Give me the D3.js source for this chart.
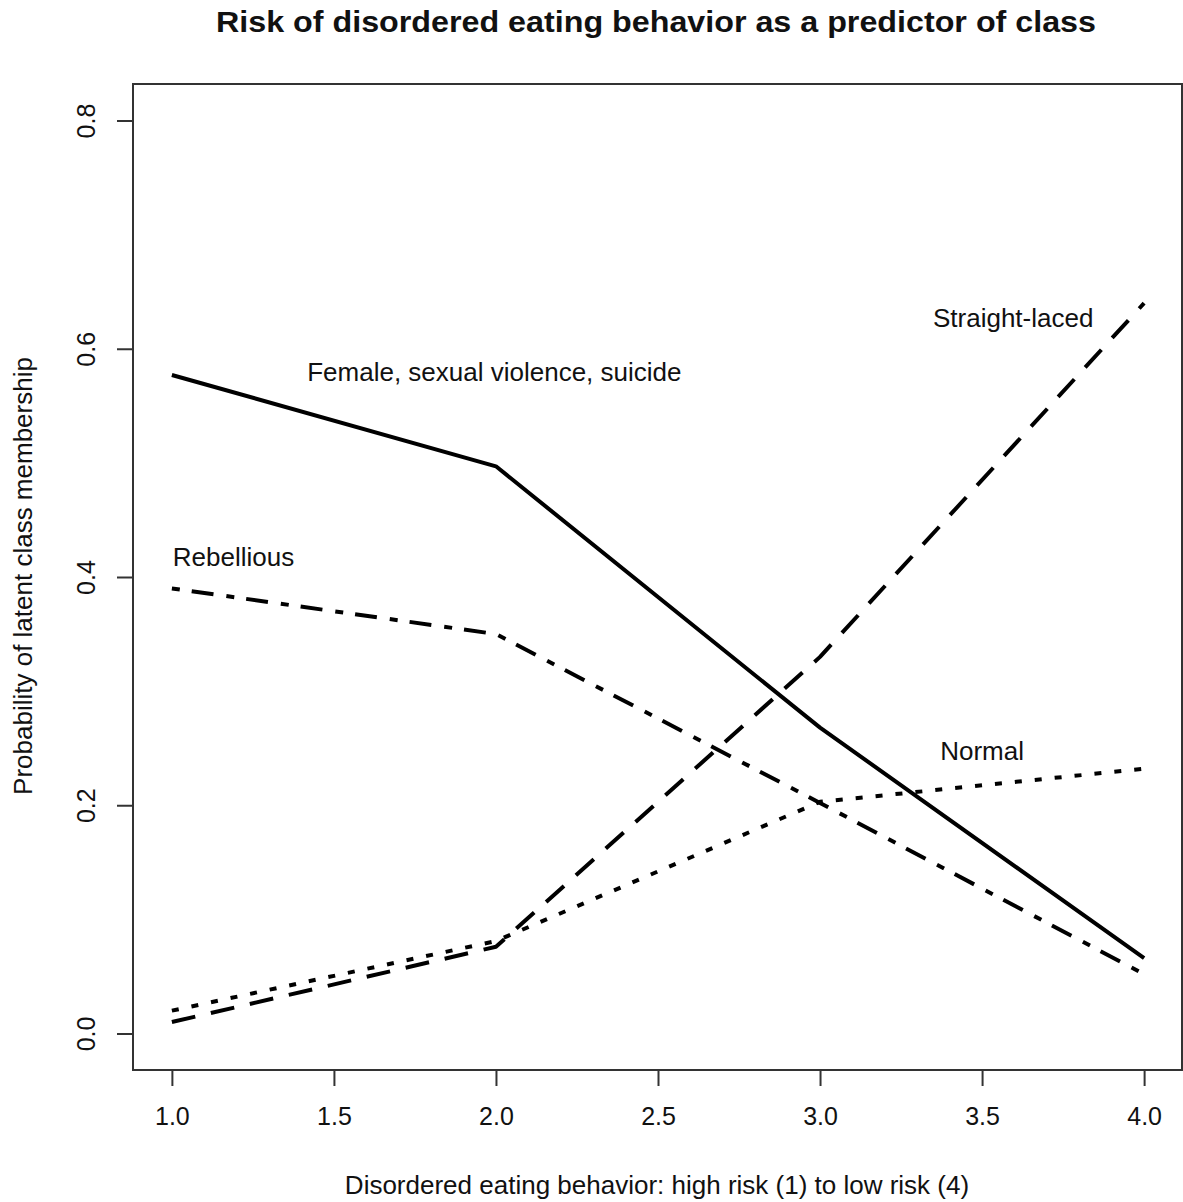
<!DOCTYPE html>
<html>
<head>
<meta charset="utf-8">
<script src="https://cdn.jsdelivr.net/npm/d3@7"></script>
<style>
  html, body { margin: 0; padding: 0; background: #fff; }
  text { font-family: "Liberation Sans", Arial, sans-serif; fill: #111; }
</style>
</head>
<body>
<svg id="chart" width="1183" height="1202"></svg>
<script>
// ---- data ----
const xValues = [1, 2, 3, 4];
const femaleSV = [0.577, 0.497, 0.268, 0.066];
const rebellious = [0.390, 0.350, 0.202, 0.052];
const straightLaced = [0.010, 0.076, 0.330, 0.640];
const normal = [0.020, 0.081, 0.203, 0.232];

const xTicks = [1.0, 1.5, 2.0, 2.5, 3.0, 3.5, 4.0];
const yTicks = [0.0, 0.2, 0.4, 0.6, 0.8];

const seriesNames = ["Female, sexual violence, suicide", "Rebellious", "Straight-laced", "Normal"];
const seriesValues = [femaleSV, rebellious, straightLaced, normal];
const seriesDash = [null, "8,12,22,13", "24,16", "7,13"];
// label anchor positions in data units
const labelX = [1.995, 1.19, 3.596, 3.5];
const labelY = [0.58, 0.418, 0.627, 0.248];

const titleText = "Risk of disordered eating behavior as a predictor of class";
const xLabel = "Disordered eating behavior: high risk (1) to low risk (4)";
const yLabel = "Probability of latent class membership";

// ---- layout ----
const svg = d3.select("#chart");
const x = d3.scaleLinear().domain([0.88, 4.12]).range([133, 1183]);
const y = d3.scaleLinear().domain([-0.032, 0.832]).range([1070, 84]);

// box
svg.append("rect")
  .attr("x", x(0.88)).attr("y", y(0.832))
  .attr("width", x(4.12) - x(0.88) - 1).attr("height", y(-0.032) - y(0.832))
  .attr("fill", "none").attr("stroke", "#333").attr("stroke-width", 2);

// x axis
const xAxis = d3.axisBottom(x).tickValues(xTicks).tickFormat(d3.format(".1f"))
  .tickSize(16).tickPadding(21);
const gx = svg.append("g").attr("transform", `translate(0,${y(-0.032)})`).call(xAxis);
gx.select(".domain").remove();
gx.selectAll(".tick line").attr("stroke", "#333").attr("stroke-width", 2);
gx.selectAll(".tick text").style("font-size", "25px").attr("fill", "#111");

// y axis
const yAxis = d3.axisLeft(y).tickValues(yTicks).tickFormat(d3.format(".1f"))
  .tickSize(16).tickPadding(0);
const gy = svg.append("g").attr("transform", `translate(${x(0.88)},0)`).call(yAxis);
gy.select(".domain").remove();
gy.selectAll(".tick line").attr("stroke", "#333").attr("stroke-width", 2);
gy.selectAll(".tick text")
  .style("font-size", "25px").attr("fill", "#111")
  .attr("x", null).attr("dy", null)
  .attr("text-anchor", "middle")
  .attr("transform", "translate(-47,0) rotate(-90)")
  .attr("dy", "0.35em");

// lines
const line = d3.line().x((d, i) => x(xValues[i])).y(d => y(d));
seriesValues.forEach((vals, k) => {
  svg.append("path")
    .datum(vals)
    .attr("d", line)
    .attr("fill", "none")
    .attr("stroke", "#000")
    .attr("stroke-width", 4)
    .attr("stroke-linejoin", "round")
    .attr("stroke-linecap", "butt")
    .attr("stroke-dasharray", seriesDash[k]);
});

// labels
seriesNames.forEach((name, k) => {
  svg.append("text")
    .attr("x", x(labelX[k])).attr("y", y(labelY[k]))
    .attr("text-anchor", "middle").attr("dy", "0.35em")
    .style("font-size", "26px")
    .text(name);
});

// title
svg.append("text")
  .attr("x", 656).attr("y", 32)
  .attr("text-anchor", "middle")
  .attr("textLength", 880).attr("lengthAdjust", "spacingAndGlyphs")
  .style("font-size", "29px").style("font-weight", "bold")
  .attr("fill", "#000")
  .text(titleText);

// axis titles
svg.append("text")
  .attr("x", 657).attr("y", 1194)
  .attr("text-anchor", "middle")
  .style("font-size", "26px")
  .text(xLabel);

svg.append("text")
  .attr("transform", `translate(32,576) rotate(-90)`)
  .attr("text-anchor", "middle")
  .style("font-size", "26px")
  .text(yLabel);
</script>
</body>
</html>
